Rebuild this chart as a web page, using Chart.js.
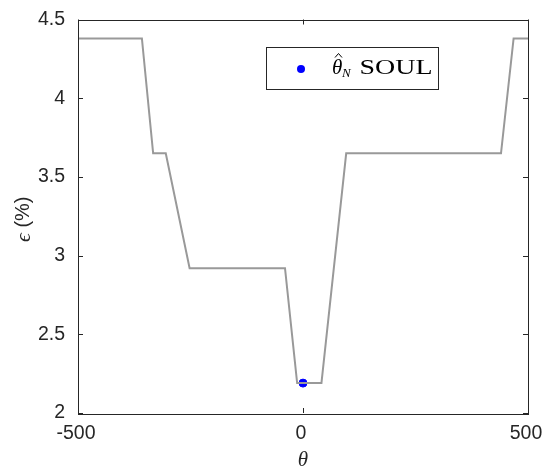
<!DOCTYPE html>
<html>
<head>
<meta charset="utf-8">
<script src="https://cdn.jsdelivr.net/npm/chart.js@4/dist/chart.umd.min.js"></script>
<style>
  html, body { margin: 0; padding: 0; background: #fff; }
  #wrap { width: 542px; height: 469px; }
</style>
</head>
<body>
<div id="wrap"><canvas id="c"></canvas></div>
<script>
// courbe epsilon(theta)
const thetaVals = [-500, -358, -333, -305, -252, -40, -13, 41, 96, 440, 468, 500];
const epsVals = [4.38, 4.38, 3.65, 3.65, 2.92, 2.92, 2.19, 2.19, 3.65, 3.65, 4.38, 4.38];

// estimateur SOUL
const soulTheta = [0];
const soulEps = [2.19];

const xTicks = [-500, 0, 500];
const yTicks = [2, 2.5, 3, 3.5, 4, 4.5];

const AXIS = "#262626";

// cadre + graduations vers l'intérieur, sur les 4 côtés (style matlab)
const boxPlugin = {
  id: "box",
  afterDraw(chart) {
    const { ctx, chartArea: a, scales } = chart;
    ctx.save();
    ctx.strokeStyle = AXIS;
    ctx.lineWidth = 1;
    ctx.strokeRect(Math.round(a.left) + 0.5, Math.round(a.top) + 0.5,
      Math.round(a.right - a.left), Math.round(a.bottom - a.top));
    const len = 5;
    ctx.beginPath();
    for (const v of xTicks) {
      const px = Math.round(scales.x.getPixelForValue(v)) + 0.5;
      ctx.moveTo(px, a.bottom); ctx.lineTo(px, a.bottom - len);
      ctx.moveTo(px, a.top); ctx.lineTo(px, a.top + len);
    }
    for (const v of yTicks) {
      const py = Math.round(scales.y.getPixelForValue(v)) + 0.5;
      ctx.moveTo(a.left, py); ctx.lineTo(a.left + len, py);
      ctx.moveTo(a.right, py); ctx.lineTo(a.right - len, py);
    }
    ctx.stroke();

    // titre axe y : epsilon (%)
    const cy = (a.top + a.bottom) / 2 + 3;
    ctx.translate(23, cy);
    ctx.rotate(-Math.PI / 2);
    ctx.fillStyle = AXIS;
    ctx.textBaseline = "middle";
    const e = "ϵ";
    ctx.font = "20px 'Liberation Sans'";
    const restW = ctx.measureText(" (%)").width;
    ctx.font = "italic 22px 'Liberation Serif'";
    const eW = ctx.measureText(e).width;
    const x0 = -(eW + restW) / 2;
    ctx.fillText(e, x0, 1);
    ctx.font = "20px 'Liberation Sans'";
    ctx.fillText(" (%)", x0 + eW, 0);
    ctx.restore();

    // légende
    const lx = 266, ly = 47, lw = 172, lh = 42;
    ctx.save();
    ctx.fillStyle = "#fff";
    ctx.fillRect(lx, ly, lw, lh);
    ctx.strokeStyle = AXIS;
    ctx.lineWidth = 1;
    ctx.strokeRect(lx + 0.5, ly + 0.5, lw, lh);
    ctx.fillStyle = "#0000ff";
    ctx.beginPath();
    ctx.arc(301, 69, 4, 0, Math.PI * 2);
    ctx.fill();
    ctx.fillStyle = "#000";
    ctx.strokeStyle = "#000";
    ctx.textBaseline = "alphabetic";
    ctx.font = "italic 21px 'Liberation Serif'";
    ctx.fillText("θ", 332, 73.5);
    // chapeau
    ctx.beginPath();
    ctx.moveTo(335, 57.5); ctx.lineTo(338.5, 53.5); ctx.lineTo(342, 57.5);
    ctx.stroke();
    ctx.font = "italic 13px 'Liberation Serif'";
    ctx.fillText("N", 342, 76.5);
    ctx.font = "20.5px 'Liberation Serif'";
    const sw = ctx.measureText("SOUL").width;
    ctx.translate(359.5, 73.5);
    ctx.scale(73 / sw, 1);
    ctx.fillText("SOUL", 0, 0);
    ctx.restore();
  }
};

new Chart(document.getElementById("c").getContext("2d"), {
  type: "scatter",
  data: {
    datasets: [
      {
        label: "courbe",
        data: thetaVals.map((t, i) => ({ x: t, y: epsVals[i] })),
        showLine: true,
        borderColor: "#999999",
        borderWidth: 2,
        pointRadius: 0,
        tension: 0,
      },
      {
        label: "θ̂N SOUL",
        data: soulTheta.map((t, i) => ({ x: t, y: soulEps[i] })),
        backgroundColor: "#0000ff",
        borderColor: "#0000ff",
        pointRadius: 4,
      },
    ],
  },
  options: {
    responsive: true,
    maintainAspectRatio: false,
    animation: false,
    layout: { padding: { top: 19.5, right: 14, left: 0, bottom: 0 } },
    plugins: {
      legend: { display: false },
      tooltip: { enabled: false },
    },
    scales: {
      x: {
        type: "linear",
        min: -500,
        max: 500,
        afterBuildTicks: (s) => { s.ticks = xTicks.map((v) => ({ value: v })); },
        afterFit: (s) => { s.height = 56; s.paddingLeft = 0; s.paddingRight = 0; },
        grid: { display: false, drawTicks: false },
        border: { display: false },
        ticks: {
          color: AXIS,
          padding: 9,
          maxRotation: 0,
          labelOffset: -2,
          callback: (v) => String(v),
          font: { family: "Liberation Sans", size: 19.5 },
        },
        title: {
          display: true,
          text: "θ",
          color: AXIS,
          padding: { top: 4, bottom: 0 },
          font: { family: "Liberation Serif", size: 21, style: "italic", lineHeight: 0.8 },
        },
      },
      y: {
        type: "linear",
        min: 2,
        max: 4.5,
        afterBuildTicks: (s) => { s.ticks = yTicks.map((v) => ({ value: v })); },
        afterFit: (s) => { s.width = 78; s.paddingTop = 0; s.paddingBottom = 0; },
        grid: { display: false, drawTicks: false },
        border: { display: false },
        ticks: {
          color: AXIS,
          padding: 13,
          callback: (v) => String(v),
          font: { family: "Liberation Sans", size: 19.5 },
        },
      },
    },
  },
  plugins: [boxPlugin],
});
</script>
</body>
</html>
